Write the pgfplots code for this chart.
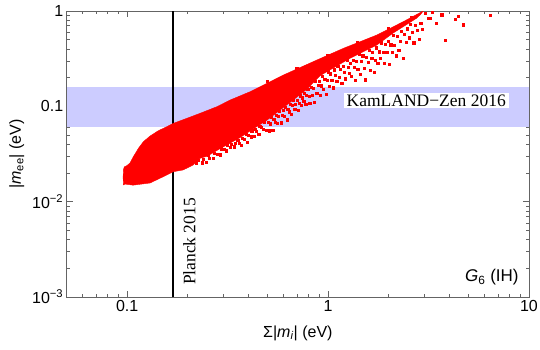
\documentclass[border=0pt]{standalone}
\usepackage{fontspec}
\setmainfont{Liberation Sans}
\newfontfamily\serif{Liberation Serif}
\usepackage{pgfplots}
\pgfplotsset{compat=1.18}
\definecolor{bandblue}{RGB}{204,204,255}
\definecolor{framegray}{RGB}{100,100,100}

\begin{document}
\begin{tikzpicture}
\begin{loglogaxis}[
  at={(0,0)}, anchor=south west,
  scale only axis, width=462.3bp, height=286bp,
  xmin=0.05, xmax=10, ymin=1e-3, ymax=1,
  xtick={0.1,1,10}, xticklabels={0.1,1,10},
  minor xtick={0.06,0.07,0.08,0.09,0.2,0.3,0.4,0.5,0.6,0.7,0.8,0.9,2,3,4,5,6,7,8,9},
  ytick={1e-3,1e-2,0.1,1},
  yticklabels={10\textsuperscript{−3},10\textsuperscript{−2},0.1,1},
  minor ytick={2e-3,3e-3,4e-3,5e-3,6e-3,7e-3,8e-3,9e-3,0.02,0.03,0.04,0.05,0.06,0.07,0.08,0.09,0.2,0.3,0.4,0.5,0.6,0.7,0.8,0.9},
  tick label style={font=\fontsize{16bp}{19bp}\selectfont, black},
  axis line style={framegray, line width=0.8bp},
  tick style={framegray, line width=0.6bp},
  major tick length=6bp, minor tick length=3.5bp,
  xlabel={Σ|\textit{m}\textsubscript{\textit{i}}| (eV)},
  ylabel={|\textit{m}\textsubscript{ee}| (eV)},
  label style={font=\fontsize{16bp}{19bp}\selectfont},
  xlabel style={at={(axis description cs:0.5,-0.126)}, anchor=center},
  ylabel style={at={(axis description cs:-0.108,0.5)}, anchor=center},
]

% KamLAND-Zen 2016 band
\addplot[fill=bandblue, draw=none] coordinates {
  (0.05,0.061) (10,0.061) (10,0.158) (0.05,0.158)} -- cycle;

% Planck 2015 bound
\addplot[black, line width=2bp] coordinates {(0.17,1e-3) (0.17,1)};

% dense part of the scan
\addplot[fill=red, draw=red, line width=0.4bp] coordinates {
  (0.0957,0.0150) (0.0955,0.0180) (0.0957,0.0215) (0.0968,0.0232)
  (0.1000,0.0240) (0.1033,0.0255) (0.1073,0.0296) (0.1137,0.0362)
  (0.1203,0.0425) (0.1300,0.0488) (0.1429,0.0555) (0.1574,0.0611)
  (0.1698,0.0663) (0.198,0.0748) (0.2306,0.0845) (0.2793,0.0990)
  (0.3253,0.1164) (0.409,0.1423) (0.5993,0.2130) (0.879,0.306)
  (1.192,0.406) (1.749,0.560) (2.365,0.772) (2.974,1.0)
  (2.9,0.93) (2.767,0.844) (2.109,0.588) (1.749,0.44) (1.288,0.32)
  (0.913,0.21) (0.786,0.152) (0.67,0.1164) (0.577,0.0915) (0.497,0.0718)
  (0.4238,0.058) (0.3648,0.047) (0.29,0.036) (0.25,0.030) (0.2306,0.0285)
  (0.2128,0.0242) (0.1897,0.0215) (0.1692,0.0206) (0.1509,0.01825)
  (0.13,0.0157) (0.1069,0.0149) (0.0976,0.0153)} -- cycle;

% sparse points
\addplot[only marks, mark=square*, mark size=1.1bp, red,
  mark options={fill=red, draw=red, line width=0pt}] coordinates {
  (0.222,0.0254) (0.226,0.0272) (0.237,0.0255) (0.239,0.0277) (0.248,0.0256)
  (0.255,0.0304) (0.258,0.0283) (0.269,0.0284) (0.273,0.0320) (0.281,0.0311)
  (0.292,0.0309) (0.296,0.0357) (0.305,0.0352) (0.311,0.0340) (0.317,0.0392)
  (0.326,0.0367) (0.331,0.0398) (0.343,0.0375) (0.347,0.0411) (0.356,0.0441)
  (0.362,0.0407)
  (0.372,0.0391) (0.375,0.0464) (0.384,0.0448) (0.391,0.0510) (0.396,0.0414)
  (0.403,0.0494) (0.414,0.0476) (0.418,0.0551) (0.429,0.0484) (0.436,0.0568)
  (0.442,0.0541) (0.453,0.0510) (0.458,0.0620) (0.467,0.0597) (0.476,0.0571)
  (0.483,0.0679) (0.494,0.0563)
  (0.503,0.0681) (0.509,0.0551) (0.516,0.0654) (0.521,0.0757) (0.532,0.0558)
  (0.538,0.0730) (0.547,0.0675) (0.553,0.0805) (0.561,0.0658) (0.568,0.0777)
  (0.574,0.0889) (0.586,0.0669) (0.592,0.0794) (0.601,0.0905) (0.609,0.0776)
  (0.614,0.0979) (0.626,0.0720) (0.631,0.0920) (0.643,0.0873) (0.649,0.1042)
  (0.657,0.0825) (0.665,0.1025) (0.672,0.1148) (0.684,0.0928) (0.691,0.1041)
  (0.703,0.1158) (0.711,0.0897) (0.718,0.1081) (0.729,0.1282) (0.737,0.1019)
  (0.746,0.1221) (0.758,0.1125) (0.764,0.1371) (0.776,0.1052) (0.783,0.1294)
  (0.794,0.1496)
  (0.806,0.128) (0.813,0.1076) (0.824,0.1562) (0.838,0.1288) (0.845,0.1540)
  (0.859,0.1098) (0.867,0.1823) (0.881,0.1370) (0.893,0.1663) (0.904,0.1838)
  (0.918,0.1304) (0.927,0.1638) (0.94,0.2043) (0.951,0.1504) (0.965,0.1918)
  (0.978,0.1322) (0.989,0.1871) (1.003,0.2289) (1.018,0.1615) (1.031,0.2181)
  (1.047,0.1875) (1.063,0.1556) (1.075,0.2409) (1.092,0.2094) (1.108,0.1836)
  (1.121,0.2630) (1.139,0.2009) (1.156,0.2414) (1.174,0.1734) (1.189,0.2637)
  (1.207,0.2265) (1.226,0.1939) (1.244,0.3018) (1.259,0.2558) (1.278,0.2226)
  (1.295,0.2834)
  (1.312,0.2054) (1.335,0.3054) (1.351,0.2554) (1.372,0.1881) (1.389,0.2941)
  (1.41,0.2429) (1.433,0.3473) (1.452,0.2178) (1.468,0.2936) (1.493,0.3366)
  (1.514,0.2508) (1.538,0.1891) (1.557,0.3245) (1.583,0.2866) (1.604,0.3829)
  (1.628,0.2372) (1.653,0.3203) (1.671,0.3696) (1.698,0.2263) (1.722,0.3031)
  (1.745,0.4083) (1.774,0.2790) (1.798,0.3718) (1.826,0.3149) (1.851,0.4608)
  (1.883,0.3648) (1.907,0.2811) (1.935,0.4463) (1.964,0.3675) (1.992,0.4833)
  (2.025,0.2750) (2.058,0.4391) (2.087,0.3680) (2.118,0.5527) (2.146,0.4365)
  (2.182,0.3366)
  (2.214,0.5375) (2.256,0.3840) (2.291,0.4832) (2.33,0.6136) (2.371,0.3205)
  (2.405,0.5630) (2.448,0.4693) (2.49,0.6461) (2.537,0.5208) (2.58,0.7220)
  (2.626,0.5991) (2.677,0.4628) (2.72,0.7091) (2.79,0.629) (2.84,0.5016)
  (2.9,0.736) (2.95,0.646)
  (3.05,0.95) (3.16,0.838) (3.24,0.84) (3.30,0.97) (3.48,0.743)
  (3.69,0.908) (3.83,0.488) (4.30,0.82) (4.46,0.871) (4.72,0.713)
  (6.41,0.893) (0.5,0.182) (0.7,0.247) (1.0,0.343) (1.4,0.468)
  (2.0,0.652) (2.6,0.862)};

\node[fill=white, inner xsep=3bp, inner ysep=1.5bp,
  font=\serif\fontsize{17.5bp}{20bp}\selectfont] at (axis cs:3.08,0.115) {KamLAND−Zen 2016};
\node[rotate=90, anchor=north west, inner sep=0pt,
  font=\serif\fontsize{17.5bp}{20bp}\selectfont] at (axis cs:0.1897,0.00133) {Planck 2015};
\node[anchor=east, inner sep=0pt, font=\fontsize{17bp}{20bp}\selectfont]
  at (axis cs:8.9,0.0016) {\textit{G}\textsubscript{6} (IH)};
\end{loglogaxis}
\pgfresetboundingbox
\path (-66.7bp,-52.3bp) rectangle (473.3bp,297bp);
\end{tikzpicture}
\end{document}
